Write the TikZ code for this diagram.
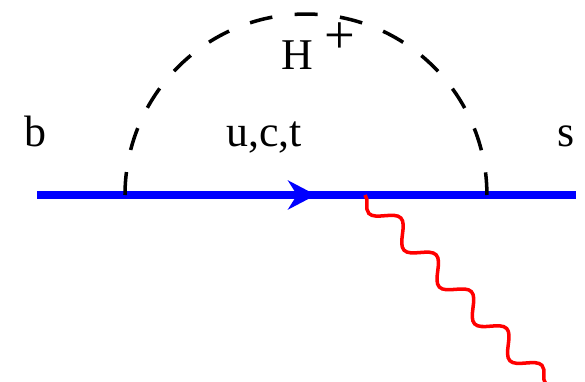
\documentclass[tikz,border=0pt]{standalone}
\usepackage{fontspec}
\setmainfont{Liberation Serif}
\usetikzlibrary{arrows.meta,decorations.pathmorphing}
\definecolor{quarkblue}{HTML}{0000FF}
\definecolor{photred}{HTML}{FF0000}
\tikzset{
  quark/.style={quarkblue,line width=4pt},
  higgs/.style={black,line width=2pt,dash pattern=on 0.46cm off 0.45cm},
  photon/.style={photred,line width=2pt,decorate,
    decoration={snake,segment length=1.02cm,amplitude=0.2cm,mirror}},
  lbl/.style={anchor=base,inner sep=0pt,font=\fontsize{25}{30}\selectfont}
}
\begin{document}
\begin{tikzpicture}[x=0.02cm,y=0.02cm]
  \useasboundingbox (0,0) rectangle (585,382);
  \coordinate (bq) at (37,187);
  \coordinate (sq) at (576,187);
  \coordinate (hl) at (125,187);
  \coordinate (hr) at (487,187);
  \coordinate (tip) at (316,187);
  \coordinate (gv) at (365,187);
  \coordinate (ge) at (546,-2);
  \draw[quark] (bq) -- (sq);
  \draw[quark,-{Stealth[length=0.56cm,width=0.58cm,inset=0.18cm]}] (bq) -- (tip);
  \draw[higgs] (hl) arc[start angle=180,end angle=0,radius=3.62cm];
  \draw[photon] (gv) -- (ge);
  \node[lbl] (b) at (35,235) {b};
  \node[lbl] (q) at (264,235) {u,c,t};
  \node[lbl] (s) at (566,235) {s};
  \node[lbl] (h) at (297,312) {H};
  \node[lbl,anchor=center,font=\fontsize{31}{36}\selectfont] (hp) at (340,344) {+};
\end{tikzpicture}
\end{document}
